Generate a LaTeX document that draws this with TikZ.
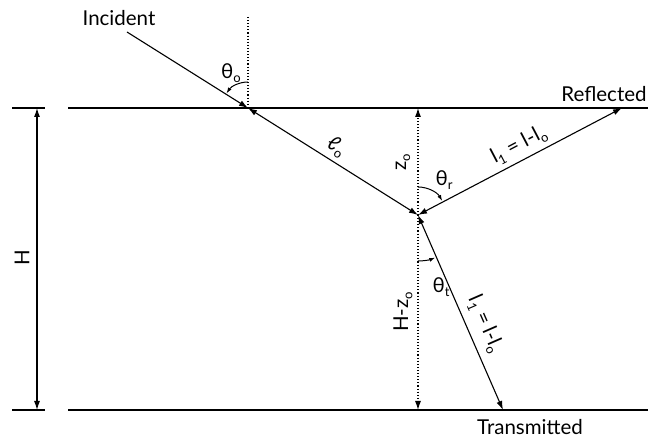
\documentclass[tikz,border=0pt]{standalone}
\usepackage{fontspec}
\setmainfont{Lato}
\usetikzlibrary{arrows.meta,positioning,calc}
\newcommand{\lowsub}[1]{\raisebox{-0.4ex}{\fontsize{13}{13}\selectfont #1}}
\tikzset{
  surf/.style={line width=1.1pt},
  ray/.style={line width=1.1pt, {Latex[length=9pt,width=6pt]}-{Latex[length=9pt,width=6pt]}},
  normal/.style={line width=1.1pt, dotted},
  angarr/.style={line width=1pt, -{Latex[length=6pt,width=4pt]}},
  lbl/.style={font=\fontsize{20.5}{22}\selectfont, inner sep=1pt},
}
\begin{document}
\begin{tikzpicture}[x=1pt,y=1pt]
  \useasboundingbox (0,0) rectangle (648,439);
  % points of the ray path
  \coordinate (P) at (248,331);
  \coordinate (Q) at (418,224);
  \coordinate (src) at (127,407);
  \coordinate (ntop) at (248,422);
  \coordinate (refl) at (622,331);
  \coordinate (trans) at (503,29);
  \coordinate (qtop) at (418,331);
  \coordinate (qbot) at (418,29);
  % layer boundaries
  \draw[surf] (68,331) -- (648,331);
  \draw[surf] (68,29) -- (648,29);
  \draw[surf] (12,331) -- (45,331);
  \draw[surf] (12,29) -- (45,29);
  \coordinate (htop) at (37,331);
  \coordinate (hbot) at (37,29);
  \draw[ray] (hbot) -- (htop);
  \node[lbl, rotate=90] (hlab) at (22,181) {H};
  % normals
  \draw[normal] (ntop) -- (P);
  \draw[normal, -{Latex[length=9pt,width=6pt]}] (Q) -- (qtop);
  \draw[normal, -{Latex[length=9pt,width=6pt]}] (Q) -- (qbot);
  % rays
  \draw[line width=1.1pt, -{Latex[length=9pt,width=6pt]}] (src) -- (P);
  \draw[ray] (P) -- (Q);
  \draw[ray] (Q) -- (refl);
  \draw[ray] (Q) -- (trans);
  % angles
  \draw[angarr] ([shift={(90:26)}]P) arc[start angle=90, end angle=146, radius=26];
  \draw[angarr] ([shift={(90:28)}]Q) arc[start angle=90, end angle=30, radius=28];
  \draw[angarr] ([shift={(-90:46)}]Q) arc[start angle=-90, end angle=-68, radius=46];
  % labels
  \node[lbl] (inc) at (119,421) {Incident};
  \node[lbl] (refn) at (604,345) {Reflected};
  \node[lbl] (trn) at (530,12) {Transmitted};
  \node[lbl] (th0) at (231,366) {θ\lowsub{o}};
  \node[lbl] (thr) at (444,259) {θ\lowsub{r}};
  \node[lbl] (tht) at (441,152) {θ\lowsub{t}};
  \node[lbl, rotate=-32] (l0) at (336,292) {ℓ\lowsub{o}};
  \node[lbl, rotate=90] (z0) at (403,277) {z\lowsub{o}};
  \node[lbl, rotate=90] (hz0) at (403,127) {H-z\lowsub{o}};
  \node[lbl, rotate=27.7] (l1r) at (519,294) {l\lowsub{1} = l-l\lowsub{o}};
  \node[lbl, rotate=-66.4] (l1t) at (485,115) {l\lowsub{1} = l-l\lowsub{o}};
\end{tikzpicture}
\end{document}
